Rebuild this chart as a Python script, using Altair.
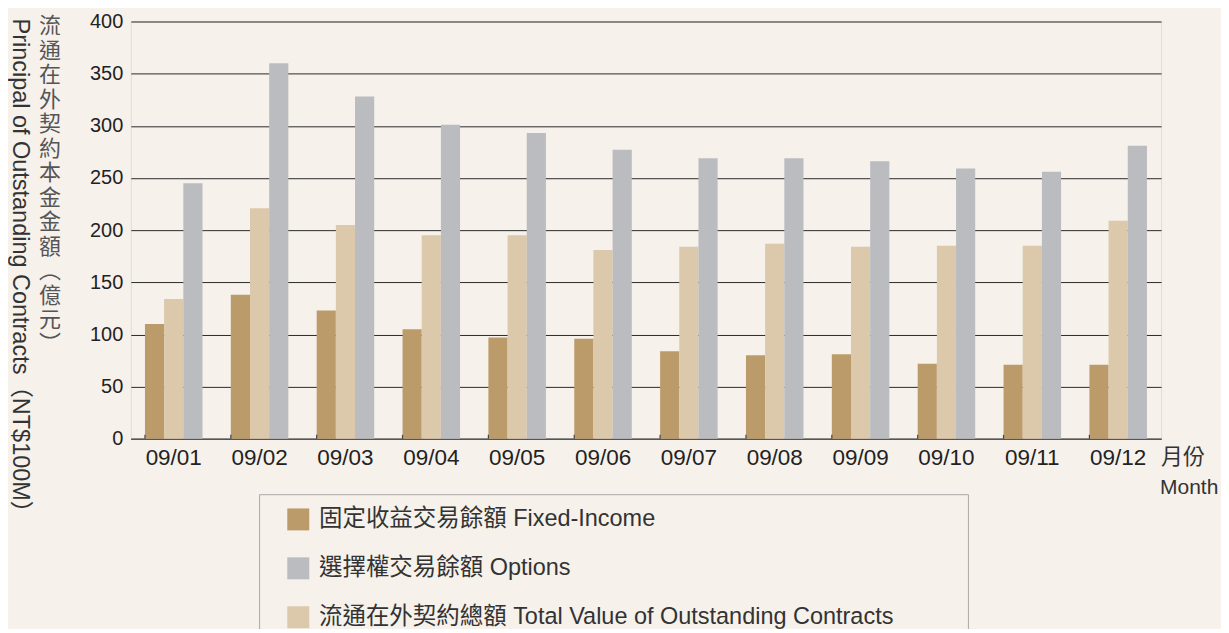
import altair as alt
import pandas as pd

months = ["09/01", "09/02", "09/03", "09/04", "09/05", "09/06",
          "09/07", "09/08", "09/09", "09/10", "09/11", "09/12"]
fixed_income = [110, 138, 123, 105, 97, 96, 84, 80, 81, 72, 71, 71]
total_value = [134, 221, 205, 195, 195, 181, 184, 187, 184, 185, 185, 209]
options = [245, 360, 328, 301, 293, 277, 269, 269, 266, 259, 256, 281]

s_fixed = "固定收益交易餘額 Fixed-Income"
s_opt = "選擇權交易餘額 Options"
s_total = "流通在外契約總額 Total Value of Outstanding Contracts"

y_ticks = [0, 50, 100, 150, 200, 250, 300, 350, 400]
y_title_zh = list("流通在外契約本金金額") + ["︵", "億", "元", "︶"]
y_title_en = "Principal of Outstanding Contracts（NT$100M）"
x_title_zh = "月份"
x_title_en = "Month"

FONT = "Liberation Sans, Arial, Noto Sans CJK TC, sans-serif"

rows = []
for i, m in enumerate(months):
    rows.append({"month": m, "series": s_fixed, "value": fixed_income[i]})
    rows.append({"month": m, "series": s_total, "value": total_value[i]})
    rows.append({"month": m, "series": s_opt, "value": options[i]})
df = pd.DataFrame(rows)

bars = alt.Chart(df).mark_bar().encode(
    x=alt.X("month:N", sort=months,
            scale=alt.Scale(paddingInner=0.33, paddingOuter=0.165),
            axis=alt.Axis(title=None, labelAngle=0, labelFontSize=22.5, labelColor="#222",
                          labelFont=FONT, ticks=False, labelPadding=8,
                          domain=True, domainColor="#555", domainWidth=1.5)),
    xOffset=alt.XOffset("series:N", sort=[s_fixed, s_total, s_opt],
                        scale=alt.Scale(paddingInner=0, paddingOuter=0)),
    y=alt.Y("value:Q", scale=alt.Scale(domain=[0, 400], nice=False),
            axis=alt.Axis(title=None, values=y_ticks, labelFontSize=20, labelColor="#222",
                          labelFont=FONT, ticks=False, domain=False, labelPadding=8,
                          grid=True, gridColor="#2a2a2a", gridWidth=1)),
    color=alt.Color("series:N",
                    scale=alt.Scale(domain=[s_fixed, s_opt, s_total],
                                    range=["#bc9b6a", "#bbbcc0", "#dcc8aa"]),
                    legend=alt.Legend(title=None, orient="none", legendX=156, legendY=487,
                                      symbolType="square", symbolSize=484, symbolStrokeWidth=0,
                                      symbolOpacity=1,
                                      labelFontSize=23.5, labelFont=FONT, labelColor="#333",
                                      labelOffset=9, rowPadding=24, labelLimit=800,
                                      direction="vertical")),
)

ticks = alt.Chart(pd.DataFrame({"month": months})).mark_rule(color="#444", strokeWidth=1.2).encode(
    x=alt.X("month:N", sort=months, bandPosition=0),
    y=alt.value(414), y2=alt.value(418),
)

one = pd.DataFrame({"a": [0]})

legend_box = alt.Chart(one).mark_rect(fill="#f6f1eb", stroke="#a9a9a9", strokeWidth=1).encode(
    x=alt.value(129), x2=alt.value(839), y=alt.value(474), y2=alt.value(660),
)

title_en = alt.Chart(one).mark_text(text=y_title_en, angle=90, align="left", baseline="middle",
                                    fontSize=23.5, font=FONT, color="#333").encode(
    x=alt.value(-111), y=alt.value(-3))

title_zh = alt.Chart(one).mark_text(text=y_title_zh, align="center", baseline="top",
                                    fontSize=22, lineHeight=24.5, font="Noto Sans CJK TC",
                                    color="#555").encode(
    x=alt.value(-81), y=alt.value(-5))

month_zh = alt.Chart(one).mark_text(text=x_title_zh, align="left", baseline="middle",
                                    fontSize=22, font="Noto Sans CJK TC", color="#333").encode(
    x=alt.value(1032), y=alt.value(436))
month_en = alt.Chart(one).mark_text(text=x_title_en, align="left", baseline="middle",
                                    fontSize=21, font=FONT, color="#333").encode(
    x=alt.value(1031), y=alt.value(467))

chart = alt.layer(legend_box, bars, ticks, title_en, title_zh, month_zh, month_en).properties(
    width=1032, height=418,
    autosize=alt.AutoSizeParams(type="none"),
    padding={"left": 123, "top": 13, "right": 60, "bottom": 190},
    background="#f6f1eb",
).configure_view(
    fill="#efe5d7", stroke="#555", strokeWidth=1.5,
).configure(font=FONT)

chart.save("out.html", embed_options={"renderer": "svg", "actions": False})
